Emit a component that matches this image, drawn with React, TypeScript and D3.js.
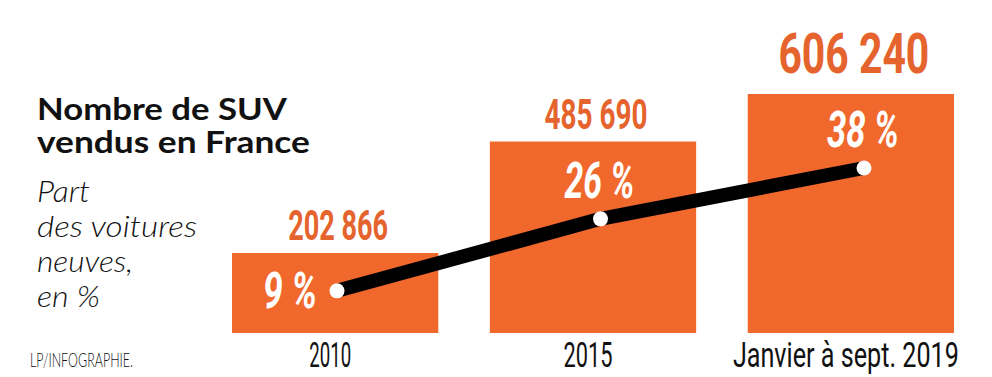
import React, { useLayoutEffect, useRef, useState } from "react";
import * as d3 from "d3";

const categories = ["2010", "2015", "Janvier à sept. 2019"];
const sales = [202866, 485690, 606240];
const salesLabels = ["202 866", "485 690", "606 240"];
const shares = [9, 26, 38];
const shareLabels = ["9 %", "26 %", "38 %"];
const subtitleLines = ["Part", "des voitures", "neuves,", "en %"];

const W = 992;
const H = 377;
const ORANGE = "#F0682C";
const ORANGE_TXT = "#E5642E";

type FitProps = {
  x: number;
  y: number;
  width: number;
  anchor?: "start" | "middle" | "end";
  children: string;
  [k: string]: any;
};

function FitText({ x, y, width, anchor = "start", children, ...rest }: FitProps) {
  const ref = useRef<SVGTextElement>(null);
  const [k, setK] = useState(1);
  useLayoutEffect(() => {
    if (ref.current) {
      const nat = ref.current.getComputedTextLength();
      if (nat > 0) setK(width / nat);
    }
  }, [width, children]);
  return (
    <g transform={`translate(${x},${y}) scale(${k},1)`}>
      <text ref={ref} x={0} y={0} textAnchor={anchor} {...rest}>
        {children}
      </text>
    </g>
  );
}

export default function App() {
  const x = d3
    .scaleBand<string>()
    .domain(categories)
    .range([232, 954])
    .paddingInner(0.2)
    .paddingOuter(0);
  const y = d3.scaleLinear().domain([0, d3.max(sales) as number]).range([333, 94]);
  const xp = d3.scalePoint<string>().domain(categories).range([337, 864]);
  const yp = d3.scaleLinear().domain([0, 38]).range([329, 168]);

  const line = d3
    .line<number>()
    .x((_, i) => xp(categories[i]) as number)
    .y((d) => yp(d));

  const catWidths = [42, 49, 226];
  const valWidths = [100, 103, 151];
  const shareWidths = [54, 70, 72];
  const subWidths = [53, 160, 96, 63];

  return (
    <svg
      width={W}
      height={H}
      style={{ position: "absolute", left: 0, top: 0, background: "#fff" }}
    >
      <rect x={0} y={0} width={W} height={H} fill="#fff" />
      {/* Title */}
      <g fontFamily="Lato, 'Open Sans', sans-serif" fill="#111">
        <FitText x={37} y={120} width={250} fontSize={31} fontWeight={700}>
          Nombre de SUV
        </FitText>
        <FitText x={37} y={153} width={273} fontSize={31} fontWeight={700}>
          vendus en France
        </FitText>
        {subtitleLines.map((t, i) => (
          <FitText
            key={t}
            x={37}
            y={202 + i * 35}
            width={subWidths[i]}
            fontSize={29}
            fontStyle="italic"
            fontWeight={300}
          >
            {t}
          </FitText>
        ))}
        <FitText x={30} y={367} width={103} fontSize={19} fontWeight={300}>
          LP/INFOGRAPHIE.
        </FitText>
      </g>

      {/* Bars */}
      {sales.map((v, i) => (
        <rect
          key={categories[i]}
          x={x(categories[i])}
          y={y(v)}
          width={x.bandwidth()}
          height={y(0) - y(v)}
          fill={ORANGE}
        />
      ))}

      {/* Value labels */}
      {sales.map((v, i) => {
        const last = i === sales.length - 1;
        const cx = (x(categories[i]) as number) + x.bandwidth() / 2 + 3;
        return (
          <FitText
            key={"v" + i}
            x={cx}
            y={y(v) - (last ? 21 : 13)}
            width={valWidths[i]}
            anchor="middle"
            fontFamily="Roboto, sans-serif"
            fontWeight={700}
            fontSize={last ? 56 : 42}
            fill={ORANGE_TXT}
          >
            {salesLabels[i]}
          </FitText>
        );
      })}

      {/* Category labels */}
      {categories.map((c, i) => (
        <FitText
          key={"c" + c}
          x={(x(c) as number) + x.bandwidth() / 2 - 5}
          y={367}
          width={catWidths[i]}
          anchor="middle"
          fontFamily="Roboto, sans-serif"
          fontSize={36}
          fill="#111"
        >
          {c}
        </FitText>
      ))}

      {/* Line */}
      <path
        d={line(shares) as string}
        fill="none"
        stroke="#000"
        strokeWidth={14}
        strokeLinecap="round"
        strokeLinejoin="round"
      />
      {shares.map((s, i) => (
        <circle
          key={"p" + i}
          cx={xp(categories[i])}
          cy={yp(s)}
          r={7.5}
          fill="#fff"
        />
      ))}

      {/* Share labels */}
      {shares.map((s, i) => {
        const px = xp(categories[i]) as number;
        const py = yp(s);
        const first = i === 0;
        return (
          <FitText
            key={"s" + i}
            x={first ? px - 20 : px - 1}
            y={first ? py + 17 : py - 21}
            width={shareWidths[i]}
            anchor={first ? "end" : "middle"}
            fontFamily="Roboto, sans-serif"
            fontWeight={700}
            fontStyle="italic"
            fontSize={50}
            fill="#fff"
          >
            {shareLabels[i]}
          </FitText>
        );
      })}
    </svg>
  );
}
